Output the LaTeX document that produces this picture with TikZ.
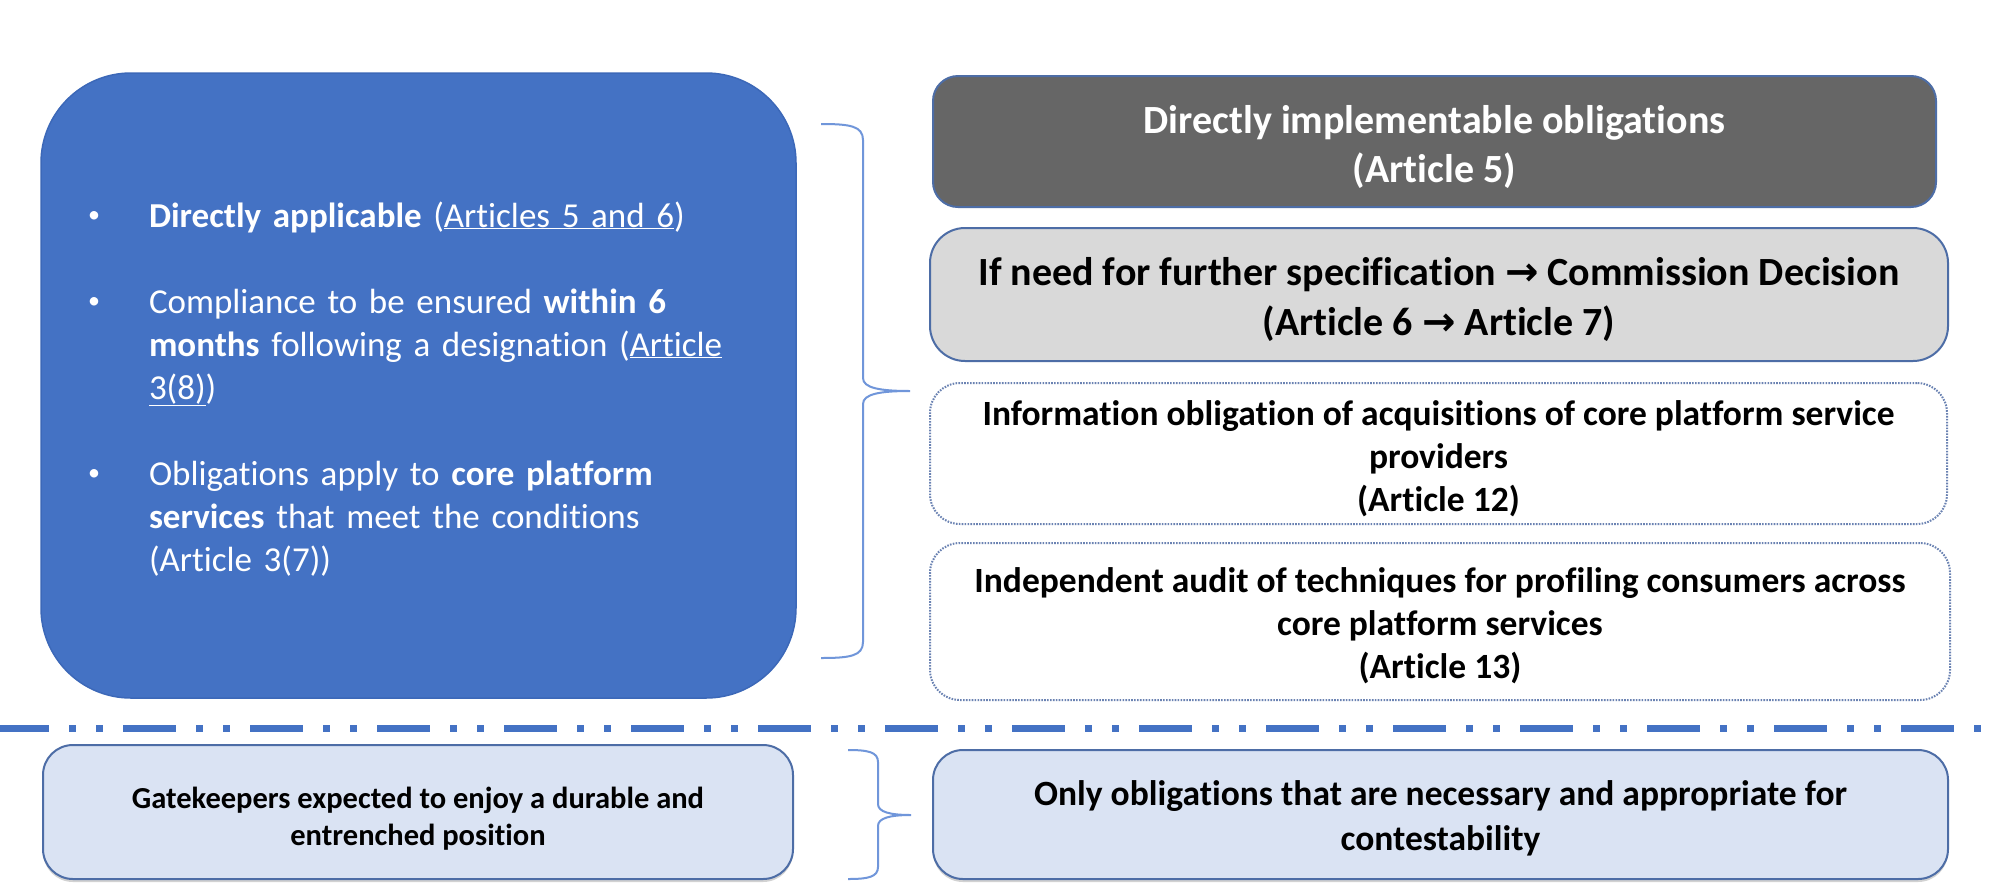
\documentclass[tikz,border=0pt]{standalone}
\usepackage{fontspec}
\setmainfont{Carlito}[Ligatures=NoCommon]
\newfontfamily\arrowfont{DejaVu Sans}
\usetikzlibrary{shadows}
\definecolor{bigblue}{HTML}{4472C4}
\definecolor{bigborder}{HTML}{3C68B8}
\definecolor{darkbox}{HTML}{666666}
\definecolor{boxborder}{HTML}{4D6DA6}
\definecolor{lightgraybox}{HTML}{D9D9D9}
\definecolor{paleblue}{HTML}{DAE3F3}
\definecolor{bracecol}{HTML}{7096DA}
\definecolor{dotcol}{HTML}{6A82B2}
\definecolor{sepcol}{HTML}{4472C4}
\newcommand{\rarr}{{\arrowfont\bfseries →}}
\begin{document}
\begin{tikzpicture}[x=1pt,y=-1pt,
  every node/.style={inner sep=0pt, outer sep=0pt},
  bigtext/.style={text=white, font=\fontsize{35}{43}\selectfont, anchor=base west, align=left, text width=640pt},
  bulletmark/.style={text=white, font=\fontsize{24}{30}\selectfont, anchor=base},
  rightbox/.style={draw=boxborder, line width=2pt},
  boxtext/.style={align=center},
  dotbox/.style={draw=dotcol, line width=2pt, dash pattern=on 1.6pt off 1.3pt, fill=white, rounded corners=30pt},
  palebox/.style={draw=boxborder, line width=2pt, fill=paleblue, rounded corners=30pt,
     drop shadow={shadow xshift=0pt, shadow yshift=-3pt, opacity=0.35}},
  bracestyle/.style={draw=bracecol, line width=2pt}
]
\useasboundingbox (0,0) rectangle (1996,892);
\fill[white] (0,0) rectangle (1996,892);

% big blue box
\node[draw=bigborder, fill=bigblue, line width=1.5pt, rounded corners=90pt,
      minimum width=755pt, minimum height=625pt] (big) at (418.5,385.5) {};
\node[bulletmark] (d1) at (94,222) {•};
\node[bigtext] (b1) at (149,227) {\textbf{Directly applicable} (\underline{Articles 5 and 6})};
\node[bulletmark] (d2) at (94,308) {•};
\node[bigtext] (b2) at (149,313) {Compliance to be ensured \textbf{within 6}\\\textbf{months} following a designation (\underline{Article}\\\underline{3(8)})};
\node[bulletmark] (d3) at (94,480) {•};
\node[bigtext] (b3) at (149,485) {Obligations apply to \textbf{core platform}\\\textbf{services} that meet the conditions\\(Article 3(7))};

% right boxes
\node[rightbox, fill=darkbox, rounded corners=25pt,
      minimum width=1003pt, minimum height=131pt] (r1) at (1434.5,141.5) {};
\node[boxtext, text=white, font=\bfseries\fontsize{40}{49}\selectfont] (r1t) at (1434.5,147)
      {Directly implementable obligations\\(Article 5)};
\node[rightbox, fill=lightgraybox, rounded corners=35pt,
      minimum width=1018pt, minimum height=133pt] (r2) at (1439,294.5) {};
\node[boxtext, font=\bfseries\fontsize{40}{50}\selectfont] (r2t) at (1439,299)
      {If need for further specification \rarr{} Commission Decision\\(Article 6 \rarr{} Article 7)};
\node[dotbox, minimum width=1017pt, minimum height=141pt] (r3) at (1438.5,453.5) {};
\node[boxtext, font=\bfseries\fontsize{35.5}{43}\selectfont] (r3t) at (1438.5,458.5)
      {Information obligation of acquisitions of core platform service\\providers\\(Article 12)};
\node[dotbox, minimum width=1020pt, minimum height=157pt] (r4) at (1440,621.5) {};
\node[boxtext, font=\bfseries\fontsize{35.5}{43}\selectfont] (r4t) at (1440,626)
      {Independent audit of techniques for profiling consumers across\\core platform services\\(Article 13)};

% top brace
\coordinate (tb1) at (821,124);
\coordinate (tb2) at (910,391);
\coordinate (tb3) at (821,658);
\draw[bracestyle] (tb1) .. controls (850,124) and (863,126) .. (863,140)
   -- (863,378) .. controls (863,388) and (880,391) .. (tb2)
   .. controls (880,391) and (863,394) .. (863,404)
   -- (863,642) .. controls (863,656) and (850,658) .. (tb3);

% separator
\coordinate (sepL) at (-4,728);
\coordinate (sepR) at (2000,728);
\draw[sepcol, line width=7pt, dash pattern=on 53pt off 20pt on 7pt off 20pt on 7pt off 20pt] (sepL) -- (sepR);

% bottom boxes
\node[palebox, minimum width=750pt, minimum height=134pt] (l5) at (418,812) {};
\node[boxtext, font=\bfseries\fontsize{30.5}{37}\selectfont] (l5t) at (418,819)
      {Gatekeepers expected to enjoy a durable and\\entrenched position};
\node[palebox, minimum width=1015pt, minimum height=129pt] (r5) at (1440.5,814.5) {};
\node[boxtext, font=\bfseries\fontsize{35.5}{45}\selectfont] (r5t) at (1440.5,818)
      {Only obligations that are necessary and appropriate for\\contestability};

% bottom brace
\coordinate (bb1) at (848,750);
\coordinate (bb2) at (911,815);
\coordinate (bb3) at (848,879);
\draw[bracestyle] (bb1) .. controls (868,750) and (878,752) .. (878,762)
   -- (878,804) .. controls (878,812) and (890,815) .. (bb2)
   .. controls (890,815) and (878,818) .. (878,826)
   -- (878,867) .. controls (878,877) and (868,879) .. (bb3);
\end{tikzpicture}
\end{document}
